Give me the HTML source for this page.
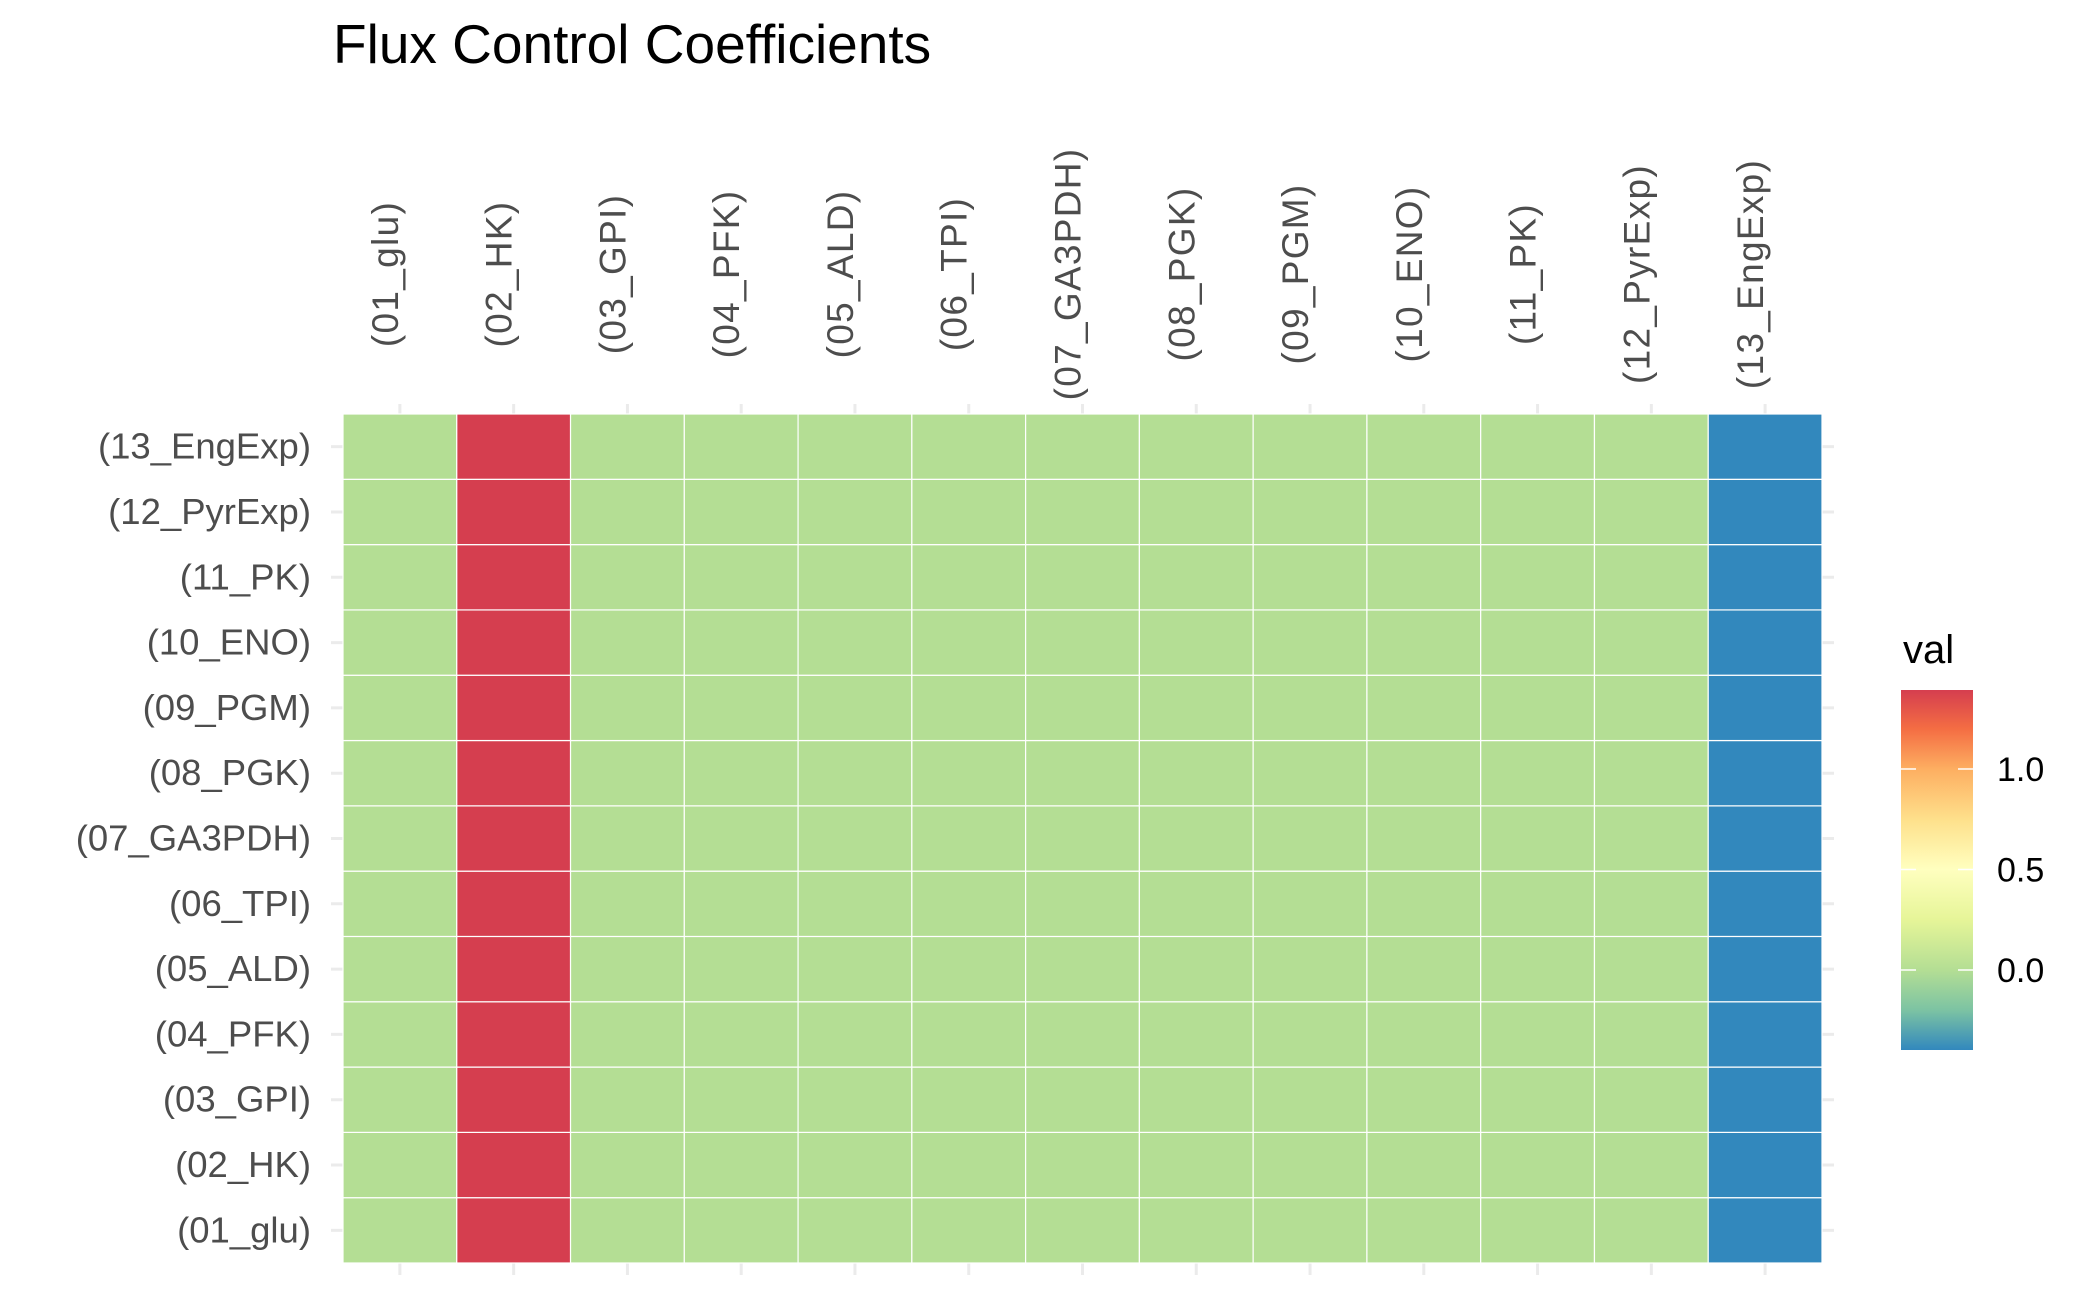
<!DOCTYPE html>
<html><head><meta charset="utf-8"><style>
html,body{margin:0;padding:0;background:#fff;}
svg{display:block;font-family:"Liberation Sans",Arial,sans-serif;}
</style></head><body>
<svg id="chart" width="2093" height="1293" viewBox="0 0 2093 1293" xmlns="http://www.w3.org/2000/svg">
<defs>
<linearGradient id="lg" x1="0" y1="1" x2="0" y2="0"></linearGradient>
</defs>
<text x="333" y="63" font-size="55" fill="#000">Flux Control Coefficients</text>
<g id="grid"></g><g id="tiles"></g><g id="xlabels"></g><g id="ylabels"></g><g id="legend"></g>
</svg>
<script>
const categories = ["(01_glu)","(02_HK)","(03_GPI)","(04_PFK)","(05_ALD)","(06_TPI)","(07_GA3PDH)","(08_PGK)","(09_PGM)","(10_ENO)","(11_PK)","(12_PyrExp)","(13_EngExp)"];
// value for each column (x reaction); same across all rows
const columnValues = [0, 1.393, 0, 0, 0, 0, 0, 0, 0, 0, 0, 0, -0.398];
const legendTicks = [0.0, 0.5, 1.0];
const legendTickLabels = ["0.0","0.5","1.0"];
const colorStops = [[-0.398,"#3288bd"],[-0.2,"#7cc3a3"],[0,"#b4de94"],[0.25,"#e6f598"],[0.5,"#ffffbf"],[0.75,"#fee08b"],[1.0,"#fdae61"],[1.2,"#f46d43"],[1.393,"#d53e4f"]];

const NS="http://www.w3.org/2000/svg";
const X0=343, X1=1822, Y0=414, Y1=1263;
const n=categories.length, cw=(X1-X0)/n, rh=(Y1-Y0)/n;
const xPos=i=>X0+i*cw;
const yPos=j=>Y1-(j+1)*rh;
const vMin=colorStops[0][0], vMax=colorStops[colorStops.length-1][0];
function hex2rgb(h){return [1,3,5].map(k=>parseInt(h.substr(k,2),16));}
function color(v){
  for(let k=0;k<colorStops.length-1;k++){
    const [a,ca]=colorStops[k],[b,cb]=colorStops[k+1];
    if(v<=b||k===colorStops.length-2){
      const t=Math.max(0,Math.min(1,(v-a)/(b-a)));
      const A=hex2rgb(ca),B=hex2rgb(cb);
      return "rgb("+A.map((x,i)=>Math.round(x+(B[i]-x)*t)).join(",")+")";
    }
  }
}
function mk(tag,attrs,parent){const e=document.createElementNS(NS,tag);for(const k in attrs)e.setAttribute(k,attrs[k]);parent.appendChild(e);return e;}

const grid=document.getElementById('grid');
for(let i=0;i<n;i++){
  const cx=xPos(i)+cw/2;
  const g=mk('line',{x1:cx,x2:cx,y1:Y0-10,y2:Y1+12,stroke:"#ebebeb","stroke-width":3},grid);
  
  
  const cy=yPos(i)+rh/2;
  const h=mk('line',{x1:X0-12,x2:X1+12,y1:cy,y2:cy,stroke:"#ebebeb","stroke-width":3},grid);
  
  
}
const tiles=document.getElementById('tiles');
for(let j=0;j<n;j++){
  for(let i=0;i<n;i++){
    const r=mk('rect',{x:xPos(i),y:yPos(j),width:cw,height:rh,fill:color(columnValues[i]),stroke:"#fff","stroke-width":1.2},tiles);
    
    
  }
}
const xl=document.getElementById('xlabels');
categories.forEach((c,i)=>{
  const cx=xPos(i)+cw/2-2, cy=274;
  const t=mk('text',{x:cx,y:cy,"font-size":37,"letter-spacing":1.3,fill:"#4d4d4d","text-anchor":"middle",transform:`rotate(-90 ${cx} ${cy})`},xl);
  t.textContent=c;
  
  
});
const yl=document.getElementById('ylabels');
categories.forEach((c,j)=>{
  const t=mk('text',{x:311,y:yPos(j)+rh/2+12,"font-size":36.5,fill:"#4d4d4d","text-anchor":"end"},yl);
  t.textContent=c;
  
  
});
const lg=document.getElementById('lg');
colorStops.forEach(([v,c])=>{mk('stop',{offset:((v-vMin)/(vMax-vMin)),"stop-color":c},lg);});
const L=document.getElementById('legend');
const LX=1901, LW=72, LT=690, LB=1050;
const ly=v=>LB-(v-vMin)/(vMax-vMin)*(LB-LT);
const lt=mk('text',{x:1903,y:663,"font-size":40,fill:"#000"},L);
lt.textContent="val";


const bar=mk('rect',{x:LX,y:LT,width:LW,height:LB-LT,fill:"url(#lg)"},L);


legendTicks.forEach((v,k)=>{
  const y=ly(v);
  const a=mk('line',{x1:LX,x2:LX+15,y1:y,y2:y,stroke:"#fff","stroke-width":1.5},L);
  
  
  const b=mk('line',{x1:LX+LW-15,x2:LX+LW,y1:y,y2:y,stroke:"#fff","stroke-width":1.5},L);
  
  
  const t=mk('text',{x:1997,y:y+12,"font-size":34,fill:"#000"},L);
  t.textContent=legendTickLabels[k];
  
  
});
</script>
</body></html>
